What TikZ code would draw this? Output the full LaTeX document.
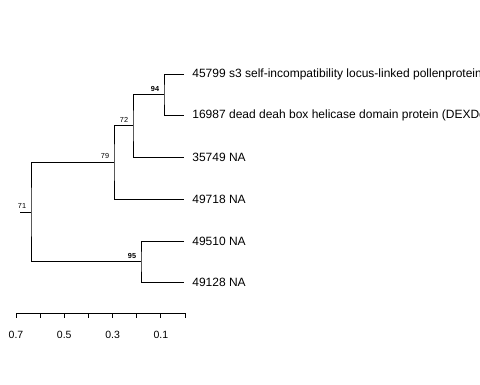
\documentclass[tikz,border=0pt]{standalone}
\usepackage{fontspec}
\setmainfont{Liberation Sans}
\usetikzlibrary{positioning}

\begin{document}
\begin{tikzpicture}
  [
  x=1pt, y=-1pt, line width=0.8pt, draw=black,
  tipnode/.style={anchor=west, inner sep=0pt, font=\fontsize{12}{14}\selectfont},
  supnode/.style={anchor=south east, inner sep=0pt, xshift=-4.5pt, yshift=3pt, font=\fontsize{7.3}{8}\selectfont},
  ticknode/.style={anchor=north, inner sep=0pt, font=\fontsize{10.5}{12}\selectfont},
  ]
  \useasboundingbox (0,0) rectangle (480,384);
  \clip (0,0) rectangle (480,384);

  % tips
  \coordinate (t1) at (184,74);
  \coordinate (t2) at (184,115);
  \coordinate (t3) at (184,157);
  \coordinate (t4) at (184,199);
  \coordinate (t5) at (184,241);
  \coordinate (t6) at (184,282);

  \node[tipnode] (l1) at (192,74) {45799 s3 self-incompatibility locus-linked pollenprotein};
  \node[tipnode] (l2) at (192,115) {16987 dead deah box helicase domain protein (DEXDc)};
  \node[tipnode] (l3) at (192,157) {35749 NA};
  \node[tipnode] (l4) at (192,199) {49718 NA};
  \node[tipnode] (l5) at (192,241) {49510 NA};
  \node[tipnode] (l6) at (192,282) {49128 NA};

  % inner nodes
  \coordinate (n94) at (164,94.5);
  \coordinate (n72) at (133,125.75);
  \coordinate (n79) at (114,162.4);
  \coordinate (n95) at (141,261.5);
  \coordinate (n71) at (31,212);
  \coordinate (root) at (20,212);

  \draw (t1) -| (n94) |- (t2);
  \draw (n94) -| (n72) |- (t3);
  \draw (n72) -| (n79) |- (t4);
  \draw (t5) -| (n95) |- (t6);
  \draw (n79) -| (n71) |- (n95);
  \draw (root) -- (n71);

  \node[supnode, font=\fontsize{7.3}{8}\selectfont\bfseries] (s94) at (n94) {94};
  \node[supnode] (s72) at (n72) {72};
  \node[supnode] (s79) at (n79) {79};
  \node[supnode, font=\fontsize{7.3}{8}\selectfont\bfseries] (s95) at (n95) {95};
  \node[supnode] (s71) at (n71) {71};

  % scale axis
  \coordinate (a0) at (16,313);
  \coordinate (a1) at (185,313);
  \draw (a0) -- (a1);
  \foreach \i in {0,...,7} {
    \draw (16+24.14*\i,313) -- ++(0,5);
  }
  \foreach \v/\i in {0.7/0,0.5/2,0.3/4,0.1/6} {
    \node[ticknode] (tk\i) at (16+24.14*\i,330.5) {\v};
  }

\end{tikzpicture}
\end{document}
